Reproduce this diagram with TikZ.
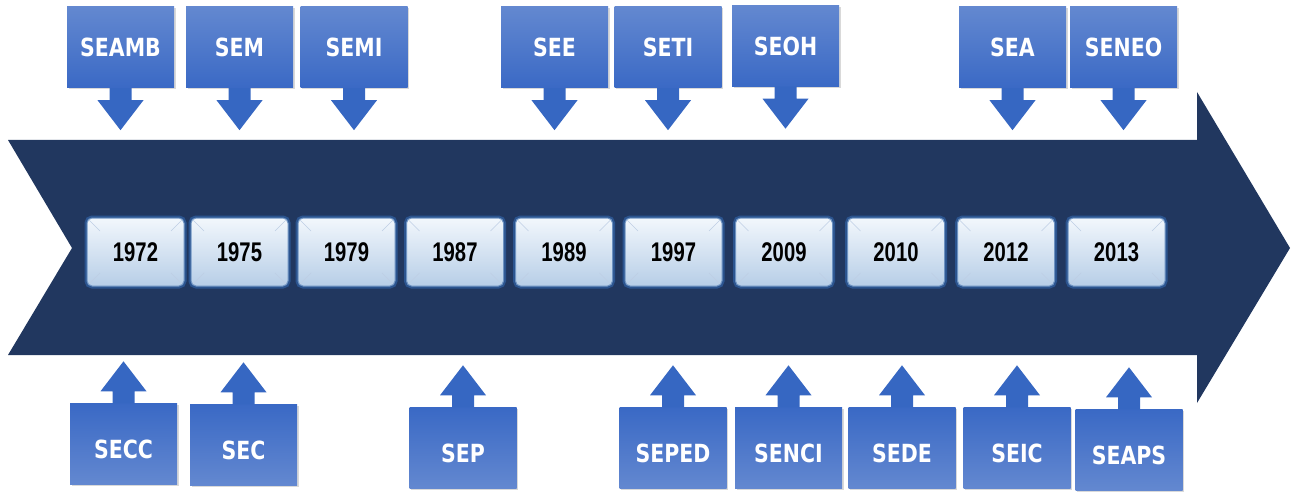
\documentclass[tikz,border=0pt]{standalone}
\usepackage{fontspec}
\usepackage{xcolor}
\usetikzlibrary{shadows}
\newfontfamily\calloutfont[FakeStretch=0.82]{DejaVu Sans}
\newfontfamily\yearfont[FakeStretch=0.75]{Liberation Sans}
\definecolor{timeline}{HTML}{21375F}
\definecolor{calloutarrow}{HTML}{3667C2}
\definecolor{calloutlight}{HTML}{6388D0}
\definecolor{calloutdark}{HTML}{3A69C5}
\definecolor{yearlight}{HTML}{F2F7FC}
\definecolor{yearmid}{HTML}{C6DAEE}
\definecolor{yeardark}{HTML}{B7CEE7}
\definecolor{yearedge}{HTML}{6E93C2}
\definecolor{yearglow}{HTML}{2E5C9C}
\tikzset{
  callout/.style={minimum width=107pt, minimum height=81pt, inner sep=0pt, text=white,
    font={\calloutfont\bfseries\fontsize{25}{28}\selectfont},
    drop shadow={opacity=0.3, shadow xshift=1.5pt, shadow yshift=-1.5pt}},
  topbox/.style={callout, top color=calloutlight, bottom color=calloutdark},
  botbox/.style={callout, top color=calloutdark, bottom color=calloutlight,
    text height=29pt, text depth=0pt},
  bevel/.style={draw=yearedge!45, line width=0.6pt},
  yearbox/.style={rounded corners=5pt, minimum width=97pt, minimum height=68pt, inner sep=0pt,
    top color=yearlight, middle color=yearmid, bottom color=yeardark,
    draw=yearedge, line width=1pt,
    preaction={draw=yearglow, line width=5pt, opacity=0.8},
    font={\yearfont\bfseries\fontsize{27}{30}\selectfont},
    path picture={\draw[bevel] (path picture bounding box.north west) -- ++(13pt,-13pt)
      (path picture bounding box.north east) -- ++(-13pt,-13pt)
      (path picture bounding box.south west) -- ++(13pt,13pt)
      (path picture bounding box.south east) -- ++(-13pt,13pt);}}
}
\newcommand{\downarr}[1]{\fill[calloutarrow] (#1.south) ++(-11,0) -- ++(0,12) -- ++(-12,0)
  -- ++(23,30) -- ++(23,-30) -- ++(-12,0) -- ++(0,-12) -- cycle;}
\newcommand{\uparr}[1]{\fill[calloutarrow] (#1.north) ++(-11,0) -- ++(0,-12) -- ++(-12,0)
  -- ++(23,-30) -- ++(23,30) -- ++(-12,0) -- ++(0,12) -- cycle;}
\begin{document}
\begin{tikzpicture}[x=1pt,y=-1pt]
\useasboundingbox (0,0) rectangle (1293,492);
% timeline arrow
\fill[timeline] (8,140) -- (1197,140) -- (1197,92) -- (1290,248) -- (1197,403)
  -- (1197,355) -- (8,355) -- (72,248) -- cycle;
% years
\node[yearbox] (y1972) at (135.5,252) {1972};
\node[yearbox] (y1975) at (239.5,252) {1975};
\node[yearbox] (y1979) at (346.5,252) {1979};
\node[yearbox] (y1987) at (455,252) {1987};
\node[yearbox] (y1989) at (564,252) {1989};
\node[yearbox] (y1997) at (673.5,252) {1997};
\node[yearbox] (y2009) at (784,252) {2009};
\node[yearbox] (y2010) at (896,252) {2010};
\node[yearbox] (y2012) at (1006,252) {2012};
\node[yearbox] (y2013) at (1116.5,252) {2013};
% top callouts
\node[topbox] (seamb) at (120.5,47.5) {SEAMB};
\node[topbox] (sem) at (239.5,47.5) {SEM};
\node[topbox] (semi) at (354,47.5) {SEMI};
\node[topbox] (see) at (554.5,47.5) {SEE};
\node[topbox] (seti) at (668,47.5) {SETI};
\node[topbox] (seoh) at (785.5,46) {SEOH};
\node[topbox] (sea) at (1012.5,47.5) {SEA};
\node[topbox] (seneo) at (1123.5,47.5) {SENEO};
\downarr{seamb}
\downarr{sem}
\downarr{semi}
\downarr{see}
\downarr{seti}
\downarr{seoh}
\downarr{sea}
\downarr{seneo}
% bottom callouts
\node[botbox] (secc) at (123.5,444) {SECC};
\node[botbox] (sec) at (243.5,445) {SEC};
\node[botbox] (sep) at (463,448) {SEP};
\node[botbox] (seped) at (673,448) {SEPED};
\node[botbox] (senci) at (788.5,448) {SENCI};
\node[botbox] (sede) at (902,448) {SEDE};
\node[botbox] (seic) at (1017,448) {SEIC};
\node[botbox] (seaps) at (1129,450) {SEAPS};
\uparr{secc}
\uparr{sec}
\uparr{sep}
\uparr{seped}
\uparr{senci}
\uparr{sede}
\uparr{seic}
\uparr{seaps}
\end{tikzpicture}
\end{document}
